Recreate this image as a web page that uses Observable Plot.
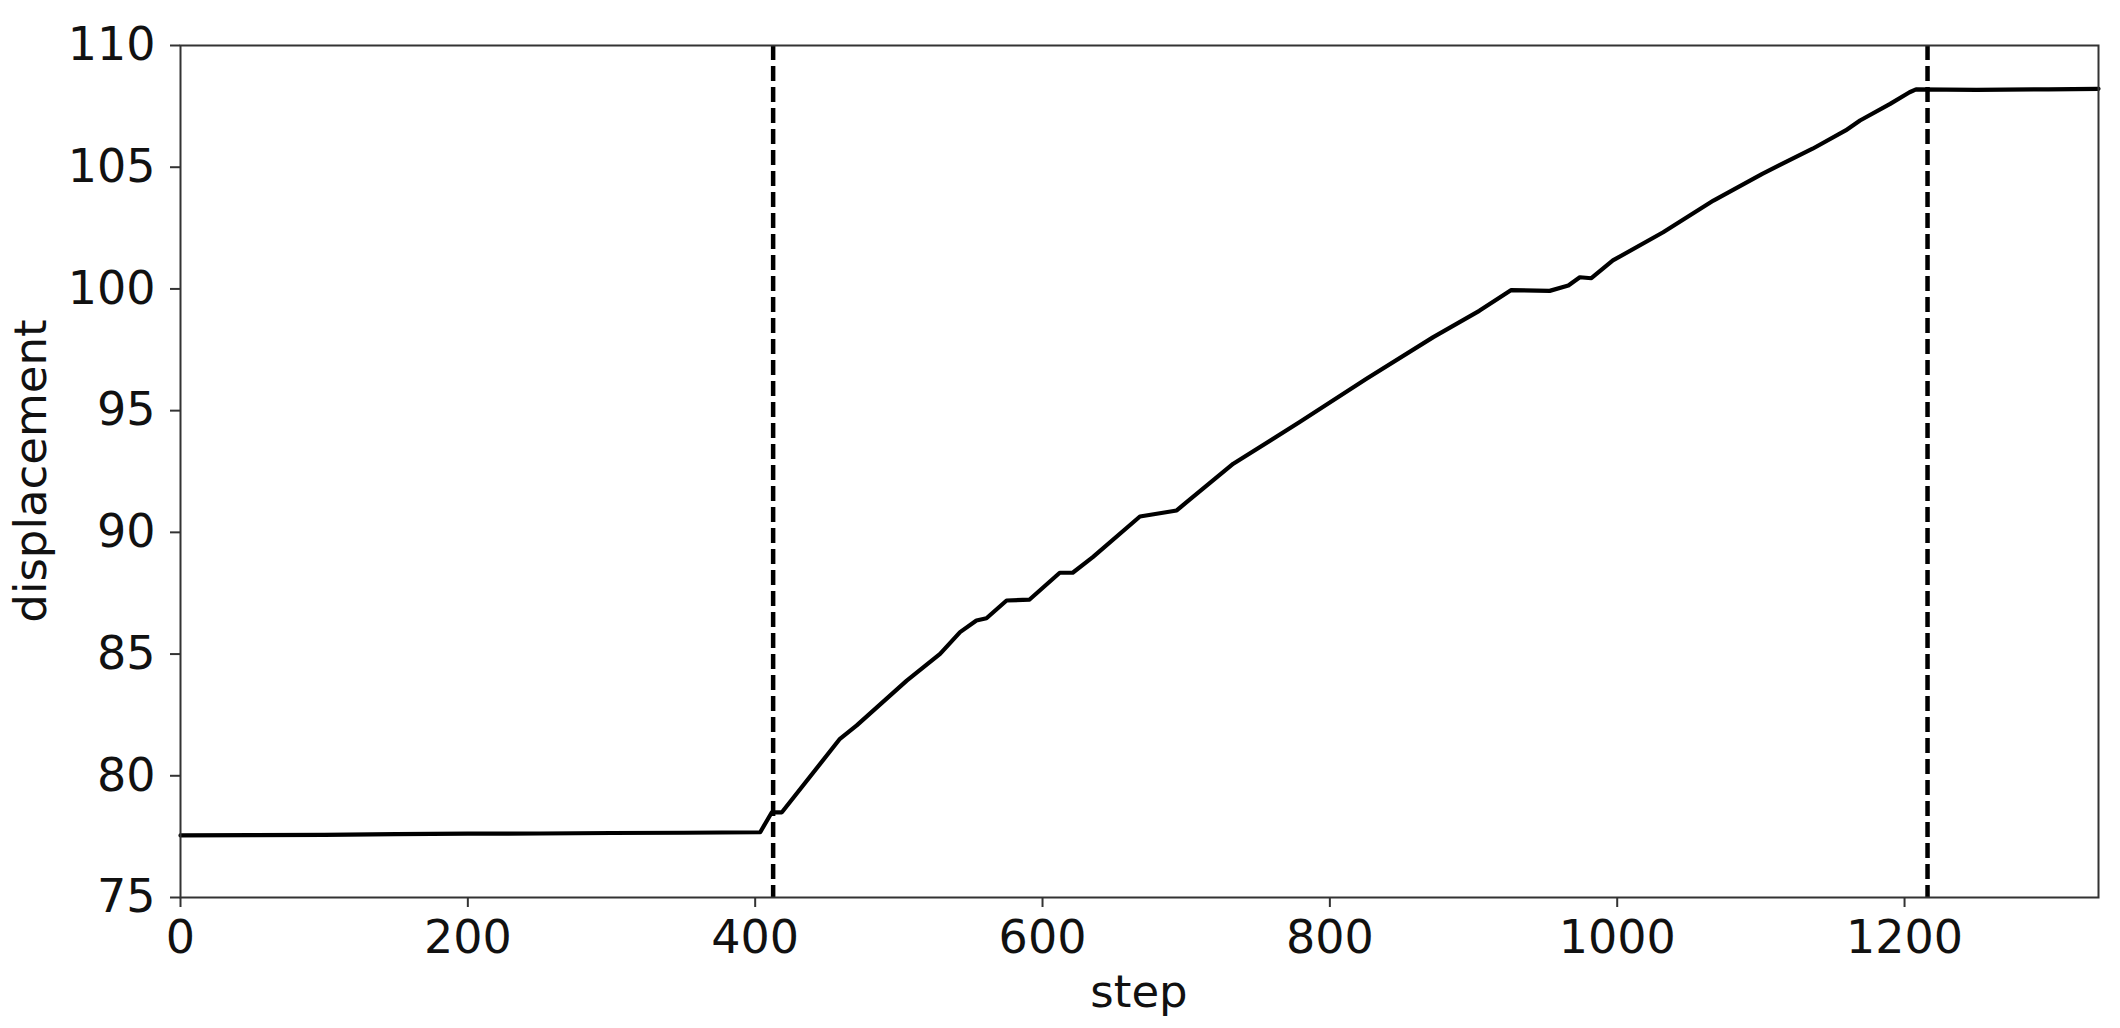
<!DOCTYPE html>
<html><head><meta charset="utf-8">
<script src="https://cdn.jsdelivr.net/npm/d3@7"></script>
<script src="https://cdn.jsdelivr.net/npm/@observablehq/plot@0.6"></script>
<style>html,body{margin:0;padding:0;background:#fff;}</style>
</head><body><div id="chart"></div>
<script>
const steps = [0, 50, 100, 150, 200, 250, 300, 350, 403.5, 411.6, 418.6, 459, 470.7, 505.5, 528.7, 542.6, 554, 561, 575, 591, 612, 621, 635, 667.8, 693.4, 700.3, 732.8, 779, 825.5, 872, 904, 926, 953, 966, 974, 982, 997, 1032, 1067, 1101, 1136, 1159, 1169, 1190, 1203.5, 1208, 1250, 1300, 1335];
const displacement = [77.55, 77.56, 77.57, 77.6, 77.62, 77.63, 77.65, 77.66, 77.68, 78.5, 78.5, 81.52, 82.07, 83.91, 85.01, 85.9, 86.38, 86.47, 87.2, 87.24, 88.34, 88.34, 88.98, 90.65, 90.9, 91.24, 92.82, 94.53, 96.31, 98.02, 99.1, 99.95, 99.92, 100.14, 100.48, 100.44, 101.17, 102.33, 103.63, 104.73, 105.76, 106.51, 106.92, 107.6, 108.08, 108.2, 108.18, 108.2, 108.22];
const phaseBoundaries = [412.5, 1216];
const xTicks = [0, 200, 400, 600, 800, 1000, 1200];
const yTicks = [75, 80, 85, 90, 95, 100, 105, 110];
const xLabel = "step";
const yLabel = "displacement";

const data = steps.map((s, i) => ({step: s, displacement: displacement[i]}));
const W = 2120, H = 1028, ML = 180, MR = 22, MT = 45, MB = 131;

const chart = Plot.plot({
  width: W, height: H,
  marginLeft: ML, marginRight: MR, marginTop: MT, marginBottom: MB,
  style: {fontFamily: "'DejaVu Sans', sans-serif", fontSize: "46px", color: "#111", background: "#fff", overflow: "visible"},
  x: {domain: [0, 1335], label: null},
  y: {domain: [75, 110], label: null},
  marks: [
    Plot.line(data, {x: "step", y: "displacement", stroke: "#000", strokeWidth: 4.2, strokeLinejoin: "round"}),
    Plot.ruleX(phaseBoundaries, {stroke: "#000", strokeWidth: 4.5, strokeDasharray: "15,6"}),
    Plot.frame({stroke: "#333", strokeWidth: 2}),
    Plot.axisX(xTicks, {tickSize: 10, tickPadding: 13, stroke: "#333", strokeWidth: 2, fill: "#111", tickFormat: d => String(d), label: null}),
    Plot.axisY(yTicks, {tickSize: 10, tickPadding: 15, stroke: "#333", strokeWidth: 2, fill: "#111", tickFormat: d => String(d), label: null})
  ]
});
document.getElementById("chart").appendChild(chart);

const svg = d3.select(chart);
svg.append("text")
  .attr("x", (ML + W - MR) / 2).attr("y", 1007)
  .attr("text-anchor", "middle")
  .attr("font-size", "45px").attr("fill", "#111")
  .text(xLabel);
svg.append("text")
  .attr("transform", `translate(46,${(MT + H - MB) / 2}) rotate(-90)`)
  .attr("text-anchor", "middle")
  .attr("font-size", "45px").attr("fill", "#111")
  .text(yLabel);
</script>
</body></html>
